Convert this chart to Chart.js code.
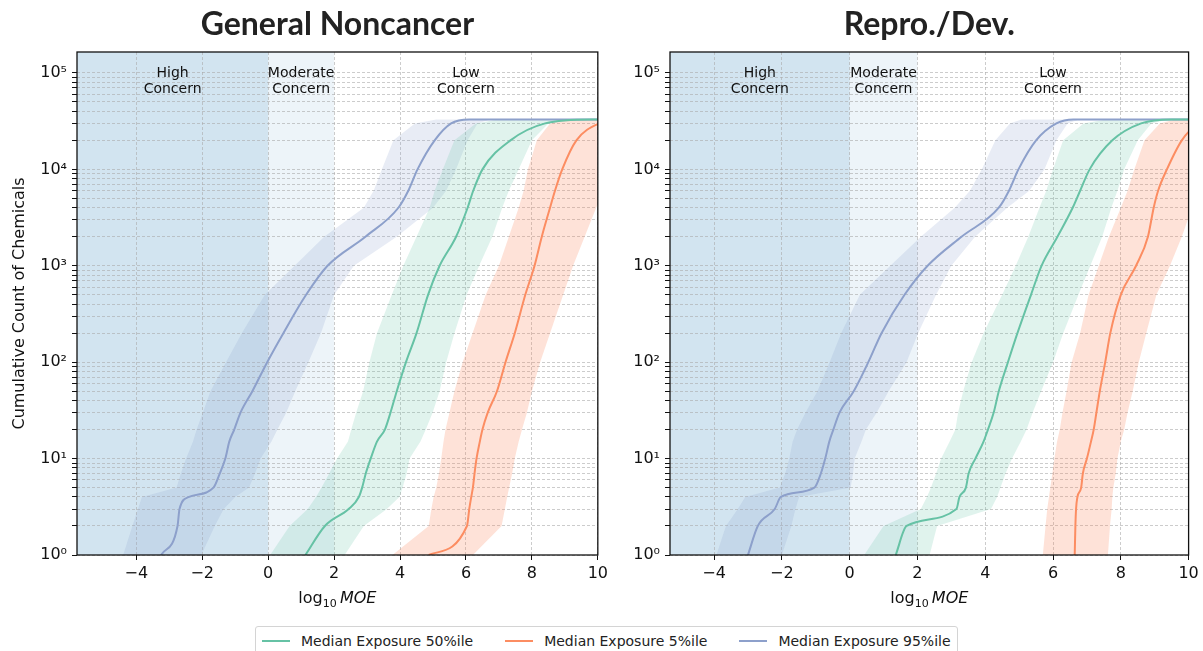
<!DOCTYPE html>
<html>
<head>
<meta charset="utf-8">
<script src="https://cdn.jsdelivr.net/npm/chart.js@4.4.1/dist/chart.umd.min.js"></script>
<style>
  body { margin: 0; width: 1203px; height: 651px; overflow: hidden; position: relative; background: #fff; font-family: "DejaVu Sans", sans-serif; }
  .panel { position: absolute; top: 0; height: 615px; }
  #legend { position: absolute; left: 255px; top: 626px; width: 703px; height: 30px; box-sizing: border-box;
            border: 1px solid #d4d4d4; border-radius: 3px; display: flex; align-items: center; padding-left: 6px;
            font-size: 14px; color: #222; white-space: nowrap; }
  #legend .item { display: flex; align-items: center; flex: none; margin-right: 32px; }
  #legend .swatch { width: 28px; height: 2px; margin-right: 11px; }
</style>
</head>
<body>
<div class="panel" style="left:0;width:612px"><canvas id="gnChart"></canvas></div>
<div class="panel" style="left:603px;width:600px"><canvas id="rdChart"></canvas></div>
<div id="legend"></div>
<script>
// cumulative count levels (y) shared by every curve; medians get one extra point on the plateau
const countLevels = [1, 2, 3, 4, 5, 7, 10, 15, 20, 30, 50, 100, 200, 500, 1000, 2000, 4000, 6000, 10000, 20000, 30000, 33000];
const plateauCount = 33000;
const countRange = [1, 165000];
const xTicks = [-4, -2, 0, 2, 4, 6, 8, 10];
const concernBounds = [0, 2];
const concernNames = [["High", "Concern"], ["Moderate", "Concern"], ["Low", "Concern"]];

const seriesNames = ["Median Exposure 50%ile", "Median Exposure 5%ile", "Median Exposure 95%ile"];
const seriesColors = ["#66c2a5", "#fc8d62", "#8da0cb"];
const bandAlpha = [0.2, 0.25, 0.2];

// General Noncancer: log10 MOE at each count level
const gnXRange = [-5.8, 10];
const gnP50Median = [1.13, 1.72, 2.44, 2.75, 2.85, 2.96, 3.11, 3.30, 3.54, 3.71, 3.9, 4.18, 4.5, 4.85, 5.2, 5.7, 6.05, 6.22, 6.5, 7.35, 8.4, 9.8, 10];
const gnP50Low = [0.06, 0.65, 1.2, 1.45, 1.62, 1.85, 2.09, 2.42, 2.52, 2.67, 2.88, 3.07, 3.3, 3.75, 4.1, 4.5, 4.9, 5.05, 5.3, 5.65, 6.3, 6.96];
const gnP50High = [2.32, 2.9, 3.6, 3.98, 4.08, 4.2, 4.29, 4.62, 4.78, 4.99, 5.2, 5.4, 5.65, 6.02, 6.4, 6.8, 7.1, 7.3, 7.6, 8.0, 8.5, 9.05];
const gnP5Median = [4.87, 6.03, 6.1, 6.16, 6.21, 6.26, 6.32, 6.42, 6.5, 6.66, 6.94, 7.2, 7.48, 7.8, 8.08, 8.3, 8.55, 8.7, 8.92, 9.35, 10.05, 10.8, 11];
const gnP5Low = [3.77, 4.87, 4.95, 5.02, 5.1, 5.18, 5.25, 5.32, 5.38, 5.5, 5.65, 5.9, 6.2, 6.6, 7.0, 7.3, 7.6, 7.75, 7.88, 8.15, 8.55, 8.93];
const gnP5High = [6.21, 7.08, 7.18, 7.25, 7.31, 7.4, 7.48, 7.6, 7.7, 7.85, 8.0, 8.25, 8.55, 8.95, 9.25, 9.6, 9.95, 10.2, 10.4, 10.7, 11, 11.2];
const gnP95Median = [-3.25, -2.75, -2.69, -2.40, -1.66, -1.47, -1.30, -1.18, -1.03, -0.84, -0.48, -0.03, 0.46, 1.15, 1.8, 2.95, 3.95, 4.25, 4.53, 5.05, 5.55, 6.1, 10];
const gnP95Low = [-4.4, -4.12, -3.95, -3.83, -2.78, -2.65, -2.49, -2.28, -2.17, -1.98, -1.75, -1.28, -0.8, -0.1, 0.8, 1.7, 2.9, 3.2, 3.45, 3.8, 4.45, 5.1];
const gnP95High = [-2.03, -1.62, -1.35, -1.0, -0.58, -0.4, -0.23, 0.1, 0.28, 0.55, 0.82, 1.22, 1.6, 2.0, 2.6, 3.9, 5.0, 5.4, 5.7, 6.05, 6.35, 6.73];

// Repro./Dev.
const rdXRange = [-5.3, 10];
const rdP50Median = [1.36, 1.68, 3.15, 3.24, 3.43, 3.51, 3.71, 3.95, 4.08, 4.25, 4.4, 4.67, 4.95, 5.35, 5.66, 6.13, 6.58, 6.8, 7.08, 7.75, 8.6, 9.5, 10];
const rdP50Low = [0.43, 1.0, 2.1, 2.28, 2.4, 2.55, 2.7, 2.95, 3.12, 3.2, 3.35, 3.6, 3.95, 4.5, 4.9, 5.27, 5.6, 5.8, 6.0, 6.3, 6.9, 7.57];
const rdP50High = [2.36, 2.58, 4.17, 4.35, 4.45, 4.6, 4.79, 5.05, 5.22, 5.4, 5.65, 6.0, 6.3, 6.75, 7.1, 7.45, 7.72, 7.9, 8.1, 8.5, 8.9, 9.38];
const rdP5Median = [6.64, 6.66, 6.68, 6.72, 6.83, 6.88, 7.0, 7.12, 7.2, 7.28, 7.38, 7.54, 7.69, 8.0, 8.45, 8.8, 8.97, 9.1, 9.36, 9.8, 10.3, 10.8, 11];
const rdP5Low = [5.7, 5.78, 5.83, 5.88, 5.92, 5.98, 6.04, 6.12, 6.2, 6.28, 6.4, 6.55, 6.8, 7.05, 7.35, 7.65, 8.0, 8.2, 8.4, 8.7, 9.15, 9.6];
const rdP5High = [7.62, 7.68, 7.73, 7.75, 7.78, 7.85, 7.9, 8.0, 8.1, 8.2, 8.35, 8.53, 8.75, 9.05, 9.45, 9.8, 10.1, 10.3, 10.5, 10.8, 11, 11.2];
const rdP95Median = [-3.0, -2.71, -2.21, -2.03, -1.04, -0.85, -0.72, -0.6, -0.48, -0.3, 0.12, 0.55, 0.94, 1.62, 2.3, 3.3, 4.4, 4.7, 4.98, 5.5, 6.1, 6.6, 10];
const rdP95Low = [-3.93, -3.65, -3.3, -3.08, -2.06, -1.9, -1.78, -1.68, -1.55, -1.3, -0.95, -0.59, -0.25, 0.3, 1.2, 2.1, 3.1, 3.55, 3.9, 4.3, 4.73, 5.07];
const rdP95High = [-2.0, -1.72, -1.6, -1.49, 0.03, 0.1, 0.15, 0.35, 0.48, 0.8, 1.15, 1.68, 2.02, 2.55, 3.0, 3.7, 4.65, 5.3, 5.75, 6.1, 6.43, 6.77];

Chart.defaults.font.family = "'DejaVu Sans', sans-serif";
Chart.defaults.color = "#111";

const sup = ["\u2070", "\u00b9", "\u00b2", "\u00b3", "\u2074", "\u2075"];
const medianLevels = countLevels.concat([plateauCount]);

function rgba(hex, a) {
  const n = parseInt(hex.slice(1), 16);
  return `rgba(${n >> 16},${(n >> 8) & 255},${n & 255},${a})`;
}

function medianLine(xs) {
  return xs.map((x, i) => ({ x: x, y: medianLevels[i] }));
}

function bandShape(low, high) {
  const pts = low.map((x, i) => ({ x: x, y: countLevels[i] }));
  for (let i = high.length - 1; i >= 0; i--) pts.push({ x: high[i], y: countLevels[i] });
  return pts;
}

function buildDatasets(series) {
  const sets = [];
  series.forEach((s, k) => {
    sets.push({
      label: seriesNames[k], data: medianLine(s.median), borderColor: seriesColors[k], borderWidth: 2,
      pointRadius: 0, fill: false, cubicInterpolationMode: "monotone", order: 1
    });
    sets.push({
      label: seriesNames[k] + " range", data: bandShape(s.low, s.high), backgroundColor: rgba(seriesColors[k], bandAlpha[k]),
      borderWidth: 0, pointRadius: 0, fill: "shape", tension: 0, order: 2
    });
  });
  return sets;
}

function logTicks() {
  const ticks = [];
  for (let e = 0; e <= 5; e++) {
    for (let m = 1; m <= 9; m++) {
      const v = m * Math.pow(10, e);
      if (v <= countRange[1]) ticks.push({ value: v, major: m === 1 });
    }
  }
  return ticks;
}

function decadeLabel(v) {
  const e = Math.round(Math.log10(v));
  return Math.abs(v - Math.pow(10, e)) < 1e-6 * v ? "10" + sup[e] : "";
}

function decorations() {
  return {
    id: "decor",
    beforeDraw(chart) {
      const { ctx, chartArea: a, scales: { x } } = chart;
      const x0 = x.getPixelForValue(concernBounds[0]);
      const x2 = x.getPixelForValue(concernBounds[1]);
      ctx.save();
      ctx.fillStyle = "rgba(31,119,180,0.2)";
      ctx.fillRect(a.left, a.top, x0 - a.left, a.bottom - a.top);
      ctx.fillStyle = "rgba(31,119,180,0.08)";
      ctx.fillRect(x0, a.top, x2 - x0, a.bottom - a.top);
      ctx.restore();
    },
    afterDatasetsDraw(chart) {
      const { ctx, chartArea: a, scales: { x } } = chart;
      ctx.save();
      // region names
      const centers = [(x.min + concernBounds[0]) / 2, (concernBounds[0] + concernBounds[1]) / 2, (concernBounds[1] + x.max) / 2];
      ctx.fillStyle = "#111";
      ctx.font = "14px 'DejaVu Sans'";
      ctx.textAlign = "center";
      ctx.textBaseline = "middle";
      centers.forEach((c, i) => {
        const px = x.getPixelForValue(c);
        ctx.fillText(concernNames[i][0], px, a.top + 21);
        ctx.fillText(concernNames[i][1], px, a.top + 37);
      });
      // frame
      ctx.strokeStyle = "#111";
      ctx.lineWidth = 1.3;
      ctx.strokeRect(a.left, a.top, a.right - a.left, a.bottom - a.top);
      // x axis label: log10 MOE
      const parts = [["log", "16px 'DejaVu Sans'", 0], ["10", "11px 'DejaVu Sans'", 4], ["\u2009MOE", "italic 16px 'DejaVu Sans'", 0]];
      let total = 0;
      parts.forEach(p => { ctx.font = p[1]; total += ctx.measureText(p[0]).width; });
      let cx = (a.left + a.right) / 2 - total / 2;
      ctx.textAlign = "left";
      ctx.textBaseline = "alphabetic";
      parts.forEach(p => {
        ctx.font = p[1];
        ctx.fillText(p[0], cx, a.bottom + 48 + p[2]);
        cx += ctx.measureText(p[0]).width;
      });
      ctx.restore();
    }
  };
}

function makeChart(id, titleText, xRange, series, yAxisWidth, rightPad, showYTitle) {
  const gridLine = { color: "rgba(170,170,170,0.75)", lineWidth: 0.8, tickLength: 5, tickColor: "#111", tickWidth: 1 };
  return new Chart(document.getElementById(id), {
    type: "line",
    data: { datasets: buildDatasets(series) },
    options: {
      responsive: true, maintainAspectRatio: false, animation: false, devicePixelRatio: 1,
      layout: { padding: { left: 0, right: rightPad, top: 0, bottom: 0 } },
      plugins: {
        legend: { display: false },
        tooltip: { enabled: false },
        title: {
          display: true, text: titleText, fullSize: false, color: "#222",
          font: { family: "Lato", weight: "bold", size: 32 }, padding: { top: 5, bottom: 8.6 }
        }
      },
      scales: {
        x: {
          type: "linear", min: xRange[0], max: xRange[1],
          afterBuildTicks: axis => { axis.ticks = xTicks.map(v => ({ value: v })); },
          afterFit: s => { s.height = 60; },
          ticks: { autoSkip: false, maxRotation: 0, padding: 4, font: { size: 16 }, callback: v => String(v).replace("-", "\u2212") },
          grid: gridLine,
          border: { display: false, dash: [3, 2] }
        },
        y: {
          type: "logarithmic", min: countRange[0], max: countRange[1],
          afterBuildTicks: axis => { axis.ticks = logTicks(); },
          afterFit: s => { s.width = yAxisWidth; },
          ticks: { autoSkip: false, padding: 5, font: { size: 16 }, callback: v => decadeLabel(v) },
          grid: gridLine,
          border: { display: false, dash: [3, 2] },
          title: { display: showYTitle, text: "Cumulative Count of Chemicals", font: { size: 16 }, padding: { top: 10, bottom: 0 } }
        }
      }
    },
    plugins: [decorations()]
  });
}

makeChart("gnChart", "General Noncancer", gnXRange, [
  { median: gnP50Median, low: gnP50Low, high: gnP50High },
  { median: gnP5Median, low: gnP5Low, high: gnP5High },
  { median: gnP95Median, low: gnP95Low, high: gnP95High }
], 77, 13, true);

makeChart("rdChart", "Repro./Dev.", rdXRange, [
  { median: rdP50Median, low: rdP50Low, high: rdP50High },
  { median: rdP5Median, low: rdP5Low, high: rdP5High },
  { median: rdP95Median, low: rdP95Low, high: rdP95High }
], 67, 14.4, false);

// legend shared by both panels
const legend = document.getElementById("legend");
seriesNames.forEach((name, k) => {
  const item = document.createElement("div");
  item.className = "item";
  item.innerHTML = `<span class="swatch" style="background:${seriesColors[k]}"></span><span>${name}</span>`;
  legend.appendChild(item);
});
</script>
</body>
</html>
